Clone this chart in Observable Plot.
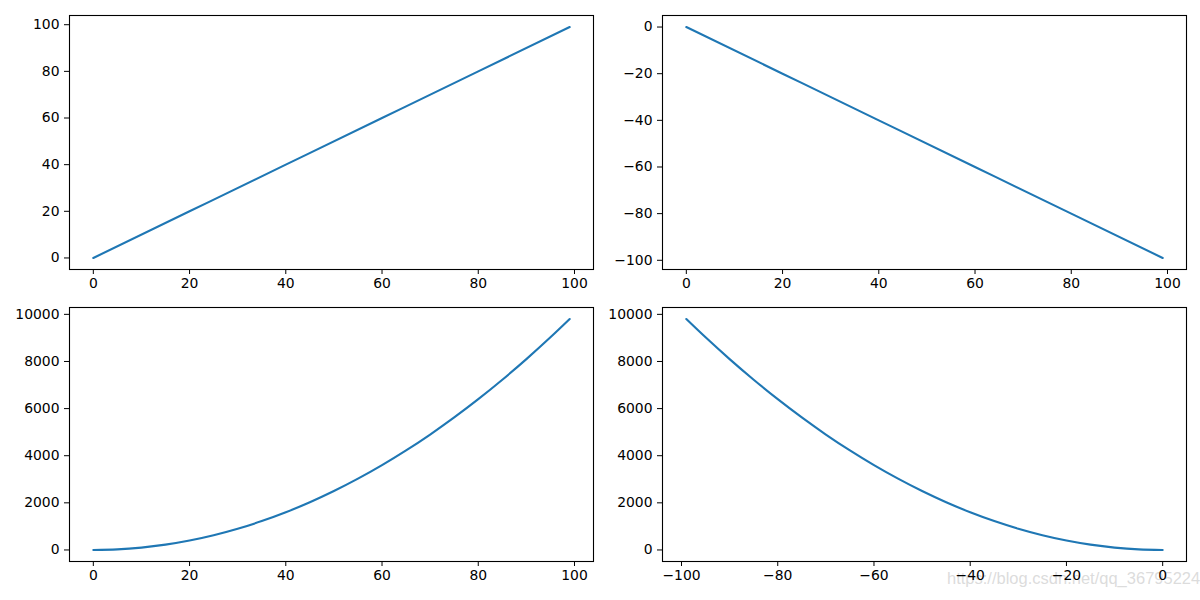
<!DOCTYPE html>
<html>
<head>
<meta charset="utf-8">
<script src="https://cdn.jsdelivr.net/npm/d3@7"></script>
<script src="https://cdn.jsdelivr.net/npm/@observablehq/plot@0.6"></script>
<style>
  html, body { margin: 0; padding: 0; background: #fff; }
  #root { position: relative; width: 1200px; height: 600px; overflow: hidden; font-family: "DejaVu Sans", sans-serif; }
  #root svg { position: absolute; }
  #wm { position: absolute; left: 947px; top: 569px; font-family: "Liberation Sans", Arial, sans-serif; font-size: 16.5px; color: rgba(190,190,190,0.55); white-space: nowrap; }
</style>
</head>
<body>
<div id="root"><div id="wm">https://blog.csdn.net/qq_36795224</div></div>
<script>
// Data
const linX = [0, 20, 40, 60, 80, 99];
const linUp = [0, 20, 40, 60, 80, 99];
const linDown = [0, -20, -40, -60, -80, -99];
const sqX = [0, 5, 10, 15, 20, 25, 30, 35, 40, 45, 50, 55, 60, 65, 70, 75, 80, 85, 90, 95, 99];
const sqY = [0, 25, 100, 225, 400, 625, 900, 1225, 1600, 2025, 2500, 3025, 3600, 4225, 4900, 5625, 6400, 7225, 8100, 9025, 9801];
const sqXneg = [0, -5, -10, -15, -20, -25, -30, -35, -40, -45, -50, -55, -60, -65, -70, -75, -80, -85, -90, -95, -99];

const ticksPos = [0, 20, 40, 60, 80, 100];
const ticksNeg = [0, -20, -40, -60, -80, -100];
const ticksSq = [0, 2000, 4000, 6000, 8000, 10000];

function pad(lo, hi) { const d = (hi - lo) * 0.05; return [lo - d, hi + d]; }
const fmt = d3.format("d");

function panel(xs, ys, xTicks, yTicks, left, top) {
  const data = xs.map((x, i) => ({x, y: ys[i]}));
  const xd = pad(d3.min(xs), d3.max(xs));
  const yd = pad(d3.min(ys), d3.max(ys));
  const mL = 69, mT = 15, mR = 7, mB = 30;
  const fw = 524, fh = 254;
  const p = Plot.plot({
    width: mL + fw + mR,
    height: mT + fh + mB,
    marginLeft: mL, marginRight: mR, marginTop: mT, marginBottom: mB,
    style: {fontFamily: "DejaVu Sans, sans-serif", fontSize: "13.9px", color: "black", background: "transparent", overflow: "visible"},
    x: {domain: xd},
    y: {domain: yd},
    marks: [
      Plot.line(data, {x: "x", y: "y", stroke: "#1f77b4", strokeWidth: 2.1, curve: "natural"}),
      Plot.frame({stroke: "black", strokeWidth: 1.1}),
      Plot.axisX({ticks: xTicks, tickFormat: fmt, tickSize: 5, tickPadding: 4, label: null, fontSize: 13.9, stroke: "black", fill: "black"}),
      Plot.axisY({ticks: yTicks, tickFormat: fmt, tickSize: 5, tickPadding: 5, label: null, fontSize: 13.9, stroke: "black", fill: "black"})
    ]
  });
  p.style.left = (left - mL) + "px";
  p.style.top = (top - mT) + "px";
  document.getElementById("root").appendChild(p);
}

panel(linX, linUp, ticksPos, ticksPos, 69, 15);
panel(linX, linDown, ticksPos, ticksNeg, 662, 15);
panel(sqX, sqY, ticksPos, ticksSq, 69, 307);
panel(sqXneg, sqY, ticksNeg, ticksSq, 662, 307);
</script>
</body>
</html>
